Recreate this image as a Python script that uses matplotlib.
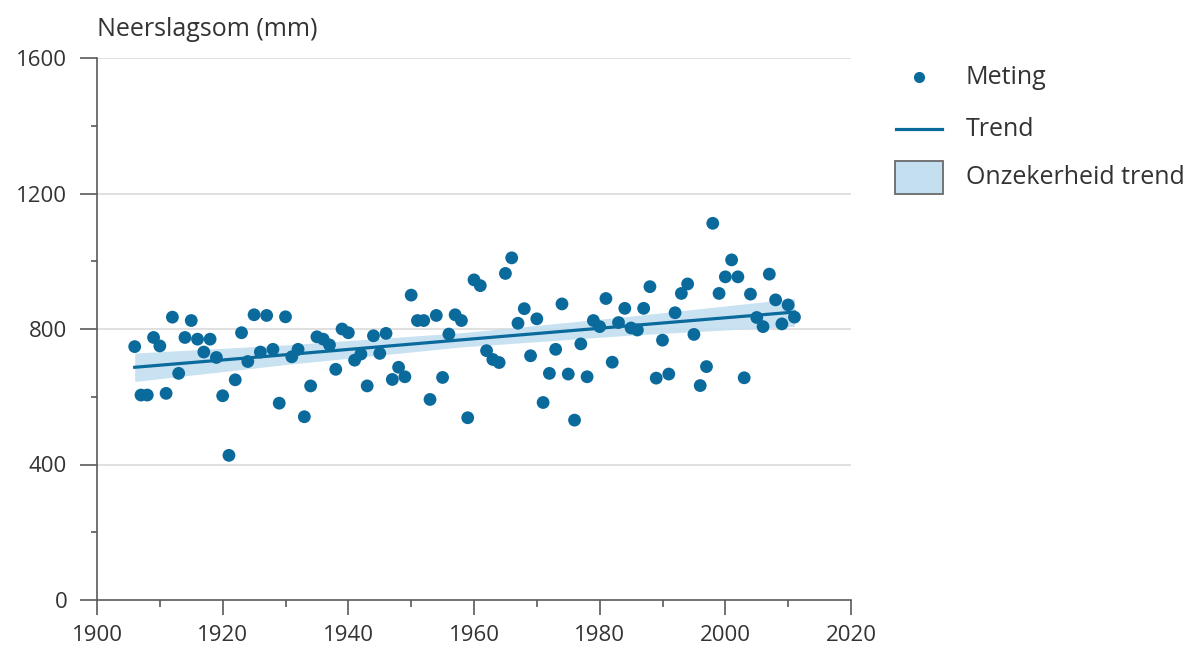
import matplotlib
matplotlib.use("Agg")
import matplotlib.pyplot as plt
from matplotlib.lines import Line2D
from matplotlib.patches import Rectangle
from matplotlib.ticker import MultipleLocator

plt.rcParams['font.family'] = ['Open Sans', 'DejaVu Sans']

years = list(range(1906, 2012))
neerslag = [748, 605, 605, 775, 750, 610, 835, 669, 775, 825,
            770, 732, 770, 716, 603, 427, 650, 789, 704, 842,
            732, 840, 740, 581, 836, 718, 740, 541, 632, 777,
            770, 753, 681, 800, 789, 708, 726, 632, 780, 728,
            787, 651, 687, 659, 900, 825, 825, 592, 840, 657,
            785, 842, 825, 538, 945, 928, 736, 710, 701, 964,
            1010, 817, 860, 721, 830, 583, 669, 740, 874, 667,
            531, 756, 659, 825, 807, 890, 702, 819, 861, 803,
            797, 861, 925, 655, 767, 667, 848, 905, 933, 784,
            633, 689, 1112, 905, 954, 1004, 954, 656, 903, 834,
            807, 962, 886, 815, 871, 835]

trend_years = [1906, 1930, 1958, 1985, 2011]
trend_mid = [687, 724, 768, 810, 850]
trend_low = [645, 695, 747, 782, 808]
trend_high = [729, 753, 789, 838, 890]

x_ticks = [1900, 1920, 1940, 1960, 1980, 2000, 2020]
y_ticks = [0, 400, 800, 1200, 1600]
legend_labels = ['Meting', 'Trend', 'Onzekerheid trend']

blue = '#0b6a9c'
band = '#c3dff0'
txt = '#333333'
axc = '#5a5a5a'

W, H = 1195, 655
fig = plt.figure(figsize=(W / 100, H / 100), dpi=100)
ax = fig.add_axes([97 / W, 1 - 600 / H, (851 - 97) / W, (600 - 58) / H])

ax.fill_between(trend_years, trend_low, trend_high, color=band, alpha=0.9, lw=0, zorder=2)
ax.plot(trend_years, trend_mid, color=blue, lw=2.3, zorder=3)
ax.scatter(years, neerslag, s=85, color=blue, edgecolors='none', zorder=4)

ax.set_xlim(1900, 2020)
ax.set_ylim(0, 1600)
ax.set_xticks(x_ticks)
ax.set_yticks(y_ticks)
ax.xaxis.set_minor_locator(MultipleLocator(10))
ax.yaxis.set_minor_locator(MultipleLocator(200))
for v in y_ticks[1:]:
    ax.axhline(v, color='#dddddd', lw=1.3, zorder=1)

for s in ['top', 'right']:
    ax.spines[s].set_visible(False)
for s in ['left', 'bottom']:
    ax.spines[s].set_color(axc)
    ax.spines[s].set_linewidth(1.2)
ax.tick_params(axis='x', which='major', direction='out', length=11, width=1.2, color=axc,
               labelsize=16, labelcolor=txt, pad=7)
ax.tick_params(axis='x', which='minor', direction='out', length=5, width=1.2, color=axc)
ax.tick_params(axis='y', which='major', direction='out', length=12.5, width=1.2, color=axc,
               labelsize=16, labelcolor=txt, pad=9)
ax.tick_params(axis='y', which='minor', direction='out', length=4.5, width=1.2, color=axc)

fig.text(97 / W, 1 - 30 / H, 'Neerslagsom (mm)', fontsize=18, color=txt, ha='left', va='center')

# legend
lx_text = 966 / W
rows = [77, 129, 178]
fig.add_artist(Line2D([919 / W], [1 - rows[0] / H], marker='o', ls='none', color=blue,
                      markersize=7, transform=fig.transFigure))
fig.add_artist(Line2D([896 / W, 942 / W], [1 - rows[1] / H] * 2, color=blue, lw=2.3,
                      transform=fig.transFigure))
fig.add_artist(Rectangle((895 / W, 1 - 194 / H), 48 / W, 33 / H, facecolor=band,
                         edgecolor='#6a6a6a', lw=1.3, transform=fig.transFigure))
for lab, r in zip(legend_labels, rows):
    fig.text(lx_text, 1 - r / H, lab, fontsize=18, color=txt, ha='left', va='center')

fig.savefig('out.png', dpi=100)
